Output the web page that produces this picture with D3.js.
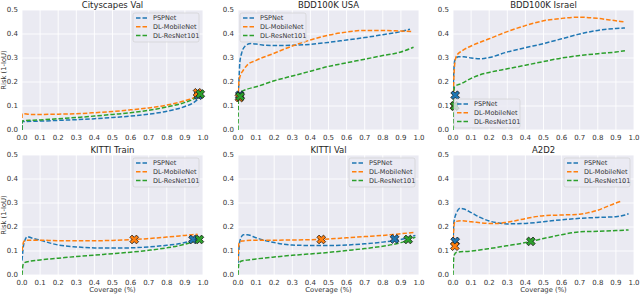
<!DOCTYPE html>
<html>
<head>
<meta charset="utf-8">
<script src="https://cdn.jsdelivr.net/npm/d3@7"></script>
<style>
  body { margin: 0; background: #fff; }
  svg { display: block; font-family: "DejaVu Sans", sans-serif; }
  .tick-label { font-size: 7px; fill: #333; }
  .title { font-size: 8.5px; fill: #262626; }
  .axis-title { font-size: 6.8px; fill: #333; }
  .legend-text { font-size: 6.5px; fill: #333; }
</style>
</head>
<body>
<svg id="chart" width="640" height="294"></svg>
<script>
// Series names and colours (tab10).
const seriesNames = ["PSPNet", "DL-MobileNet", "DL-ResNet101"];
const seriesColors = ["#1f77b4", "#ff7f0e", "#2ca02c"];
const tickValues = [0, 0.1, 0.2, 0.3, 0.4, 0.5, 0.6, 0.7, 0.8, 0.9, 1.0];
const yTickValues = [0, 0.1, 0.2, 0.3, 0.4, 0.5];

// [coverage, risk] pairs.
const cityPsp = [[0, 0.0], [0.001, 0.035], [0.1, 0.037], [0.2, 0.04], [0.3, 0.043], [0.4, 0.047], [0.5, 0.052], [0.6, 0.058], [0.7, 0.066], [0.8, 0.078], [0.9, 0.098], [0.95, 0.115], [0.98, 0.135], [0.99, 0.145]];
const cityMob = [[0, 0.05], [0.001, 0.068], [0.05, 0.065], [0.1, 0.065], [0.2, 0.066], [0.3, 0.068], [0.4, 0.072], [0.5, 0.077], [0.6, 0.084], [0.7, 0.092], [0.8, 0.104], [0.9, 0.122], [0.95, 0.135], [0.98, 0.15]];
const cityRes = [[0, 0.0], [0.001, 0.038], [0.1, 0.042], [0.2, 0.047], [0.3, 0.052], [0.4, 0.058], [0.5, 0.065], [0.6, 0.072], [0.7, 0.082], [0.8, 0.096], [0.9, 0.115], [0.95, 0.13], [0.98, 0.145]];

const usaPsp = [[0, 0.12], [0.005, 0.2], [0.01, 0.28], [0.02, 0.32], [0.04, 0.35], [0.07, 0.36], [0.1, 0.358], [0.15, 0.353], [0.2, 0.352], [0.3, 0.353], [0.4, 0.357], [0.5, 0.365], [0.6, 0.375], [0.7, 0.385], [0.8, 0.397], [0.9, 0.41], [0.95, 0.42]];
const usaMob = [[0, 0.13], [0.005, 0.2], [0.01, 0.22], [0.03, 0.25], [0.05, 0.27], [0.1, 0.29], [0.2, 0.32], [0.3, 0.35], [0.4, 0.375], [0.5, 0.395], [0.6, 0.408], [0.7, 0.415], [0.8, 0.415], [0.9, 0.412], [0.96, 0.41]];
const usaRes = [[0, 0.0], [0.002, 0.12], [0.005, 0.14], [0.02, 0.16], [0.05, 0.17], [0.1, 0.18], [0.2, 0.205], [0.3, 0.225], [0.4, 0.245], [0.5, 0.265], [0.6, 0.28], [0.7, 0.295], [0.8, 0.31], [0.9, 0.325], [0.97, 0.345]];

const israelPsp = [[0, 0.14], [0.005, 0.25], [0.01, 0.29], [0.03, 0.305], [0.06, 0.305], [0.1, 0.3], [0.15, 0.297], [0.2, 0.302], [0.3, 0.325], [0.4, 0.343], [0.5, 0.36], [0.6, 0.38], [0.7, 0.4], [0.8, 0.415], [0.9, 0.423], [0.95, 0.425]];
const israelMob = [[0, 0.1], [0.005, 0.22], [0.01, 0.28], [0.02, 0.31], [0.05, 0.33], [0.1, 0.35], [0.2, 0.38], [0.3, 0.41], [0.4, 0.435], [0.5, 0.455], [0.6, 0.465], [0.7, 0.47], [0.8, 0.465], [0.9, 0.455], [0.95, 0.45]];
const israelRes = [[0, 0.0], [0.003, 0.1], [0.008, 0.18], [0.05, 0.195], [0.1, 0.215], [0.15, 0.23], [0.2, 0.24], [0.3, 0.255], [0.4, 0.27], [0.5, 0.285], [0.6, 0.3], [0.7, 0.31], [0.8, 0.318], [0.9, 0.325], [0.95, 0.33]];

const kittiTrainPsp = [[0, 0.06], [0.01, 0.13], [0.03, 0.16], [0.05, 0.155], [0.1, 0.145], [0.2, 0.125], [0.3, 0.117], [0.4, 0.113], [0.5, 0.112], [0.6, 0.113], [0.7, 0.117], [0.8, 0.124], [0.9, 0.135], [0.95, 0.147], [0.98, 0.15]];
const kittiTrainMob = [[0, 0.1], [0.01, 0.14], [0.03, 0.145], [0.1, 0.145], [0.2, 0.143], [0.3, 0.143], [0.4, 0.143], [0.5, 0.144], [0.6, 0.147], [0.7, 0.152], [0.8, 0.158], [0.9, 0.165], [0.97, 0.17]];
const kittiTrainRes = [[0, 0.0], [0.005, 0.04], [0.01, 0.05], [0.05, 0.058], [0.1, 0.063], [0.2, 0.07], [0.3, 0.077], [0.4, 0.083], [0.5, 0.089], [0.6, 0.095], [0.7, 0.103], [0.8, 0.113], [0.9, 0.128], [0.95, 0.14], [0.98, 0.147]];

const kittiValPsp = [[0, 0.05], [0.01, 0.14], [0.03, 0.168], [0.05, 0.168], [0.1, 0.155], [0.2, 0.135], [0.3, 0.125], [0.4, 0.123], [0.5, 0.123], [0.6, 0.125], [0.7, 0.13], [0.8, 0.137], [0.9, 0.148], [0.98, 0.165]];
const kittiValMob = [[0, 0.06], [0.005, 0.13], [0.02, 0.142], [0.1, 0.145], [0.2, 0.145], [0.3, 0.146], [0.4, 0.147], [0.5, 0.15], [0.6, 0.155], [0.7, 0.16], [0.8, 0.165], [0.9, 0.172], [0.98, 0.178]];
const kittiValRes = [[0, 0.0], [0.005, 0.05], [0.02, 0.058], [0.05, 0.062], [0.1, 0.067], [0.2, 0.075], [0.3, 0.082], [0.4, 0.088], [0.5, 0.094], [0.6, 0.102], [0.7, 0.11], [0.8, 0.12], [0.9, 0.135], [0.98, 0.158]];

const a2d2Psp = [[0, 0.13], [0.005, 0.22], [0.02, 0.26], [0.04, 0.278], [0.06, 0.275], [0.1, 0.26], [0.15, 0.24], [0.2, 0.225], [0.25, 0.217], [0.3, 0.213], [0.4, 0.215], [0.5, 0.222], [0.6, 0.23], [0.7, 0.236], [0.8, 0.24], [0.9, 0.243], [0.95, 0.25], [0.97, 0.255]];
const a2d2Mob = [[0, 0.12], [0.005, 0.2], [0.01, 0.222], [0.05, 0.226], [0.1, 0.222], [0.2, 0.215], [0.25, 0.215], [0.3, 0.22], [0.4, 0.235], [0.5, 0.247], [0.6, 0.25], [0.7, 0.253], [0.75, 0.26], [0.8, 0.27], [0.85, 0.285], [0.9, 0.3], [0.93, 0.308]];
const a2d2Res = [[0, 0.0], [0.005, 0.08], [0.02, 0.095], [0.1, 0.1], [0.2, 0.11], [0.3, 0.122], [0.4, 0.135], [0.5, 0.152], [0.6, 0.168], [0.7, 0.18], [0.8, 0.182], [0.9, 0.185], [0.97, 0.188]];

// Chosen operating points (one per series): [coverage, risk].
const cityMarks = [[0.975, 0.145], [0.97, 0.155], [0.985, 0.15]];
const usaMarks = [[0.01, 0.145], [0.008, 0.135], [0.012, 0.14]];
const israelMarks = [[0.012, 0.145], [0.008, 0.1], [0.01, 0.1]];
const kittiTrainMarks = [[0.945, 0.148], [0.62, 0.148], [0.98, 0.148]];
const kittiValMarks = [[0.865, 0.15], [0.46, 0.148], [0.94, 0.148]];
const a2d2Marks = [[0.012, 0.14], [0.01, 0.12], [0.43, 0.14]];

const panelTitles = ["Cityscapes Val", "BDD100K USA", "BDD100K Israel", "KITTI Train", "KITTI Val", "A2D2"];

const panels = [
    { title: panelTitles[0], series: [cityPsp, cityMob, cityRes], marks: cityMarks, legend: "upper right" },
    { title: panelTitles[1], series: [usaPsp, usaMob, usaRes], marks: usaMarks, legend: "upper left" },
    { title: panelTitles[2], series: [israelPsp, israelMob, israelRes], marks: israelMarks, legend: "lower left" },
    { title: panelTitles[3], series: [kittiTrainPsp, kittiTrainMob, kittiTrainRes], marks: kittiTrainMarks, legend: "upper right" },
    { title: panelTitles[4], series: [kittiValPsp, kittiValMob, kittiValRes], marks: kittiValMarks, legend: "upper right" },
    { title: panelTitles[5], series: [a2d2Psp, a2d2Mob, a2d2Res], marks: a2d2Marks, legend: "upper right" }
];

const colLefts = [22, 238, 453];
const rowTops = [10, 155];
const width = 181;
const height = 120;

const svg = d3.select("#chart");

// Filled "X" marker: a plus rotated by 45 degrees.
const xMarker = d3.symbol().type(d3.symbolCross).size(48);

panels.forEach((p, i) => {
    const col = i % 3;
    const row = Math.floor(i / 3);
    const g = svg.append("g")
        .attr("transform", `translate(${colLefts[col]},${rowTops[row]})`);

    const x = d3.scaleLinear().domain([0, 1]).range([0, width]);
    const y = d3.scaleLinear().domain([0, 0.5]).range([height, 0]);

    // Background and grid, seaborn darkgrid style.
    g.append("rect")
        .attr("width", width)
        .attr("height", height)
        .attr("fill", "#eaeaf2");

    g.selectAll(".vgrid")
        .data(tickValues)
        .join("line")
        .attr("x1", d => x(d)).attr("x2", d => x(d))
        .attr("y1", 0).attr("y2", height)
        .attr("stroke", "#fff").attr("stroke-width", 0.9);

    g.selectAll(".hgrid")
        .data(yTickValues)
        .join("line")
        .attr("x1", 0).attr("x2", width)
        .attr("y1", d => y(d)).attr("y2", d => y(d))
        .attr("stroke", "#fff").attr("stroke-width", 0.9);

    // Tick labels.
    g.append("g").selectAll("text")
        .data(tickValues)
        .join("text")
        .attr("class", "tick-label")
        .attr("x", d => x(d))
        .attr("y", height + 9.5)
        .attr("text-anchor", "middle")
        .text(d => d.toFixed(1));

    g.append("g").selectAll("text")
        .data(yTickValues)
        .join("text")
        .attr("class", "tick-label")
        .attr("x", -4)
        .attr("y", d => y(d))
        .attr("dy", "0.35em")
        .attr("text-anchor", "end")
        .text(d => d.toFixed(1));

    // Title.
    g.append("text")
        .attr("class", "title")
        .attr("x", width / 2)
        .attr("y", -2.5)
        .attr("text-anchor", "middle")
        .text(p.title);

    if (col === 0) {
        g.append("text")
            .attr("class", "axis-title")
            .attr("transform", `translate(${-16},${height / 2}) rotate(-90)`)
            .attr("text-anchor", "middle")
            .text("Risk (1-IoU)");
    }
    if (row === 1) {
        g.append("text")
            .attr("class", "axis-title")
            .attr("x", width / 2)
            .attr("y", height + 17)
            .attr("text-anchor", "middle")
            .text("Coverage (%)");
    }

    // Clip lines to the axes area.
    const clipId = `clip-${i}`;
    g.append("clipPath").attr("id", clipId)
        .append("rect").attr("width", width).attr("height", height);

    const line = d3.line()
        .x(d => x(d[0]))
        .y(d => y(d[1]))
        .curve(d3.curveMonotoneX);

    const lines = g.append("g").attr("clip-path", `url(#${clipId})`);
    p.series.forEach((s, k) => {
        lines.append("path")
            .datum(s)
            .attr("fill", "none")
            .attr("stroke", seriesColors[k])
            .attr("stroke-width", 1.5)
            .attr("stroke-dasharray", "4.5,2")
            .attr("d", line);
    });

    // Operating-point markers.
    g.selectAll(".mark")
        .data(p.marks)
        .join("path")
        .attr("d", xMarker)
        .attr("transform", d => `translate(${x(d[0])},${y(d[1])}) rotate(45)`)
        .attr("fill", (d, k) => seriesColors[k])
        .attr("stroke", "#111")
        .attr("stroke-width", 0.7);

    // Legend.
    const lw = 66, lh = 29;
    let lx, ly;
    if (p.legend === "upper right") { lx = width - lw - 4; ly = 3; }
    else if (p.legend === "upper left") { lx = 2; ly = 3; }
    else { lx = 1; ly = height - lh - 2; }

    const leg = g.append("g").attr("transform", `translate(${lx},${ly})`);
    leg.append("rect")
        .attr("width", lw).attr("height", lh)
        .attr("rx", 2)
        .attr("fill", "#eaeaf2").attr("fill-opacity", 0.8)
        .attr("stroke", "#cccccc").attr("stroke-width", 0.6);
    seriesNames.forEach((name, k) => {
        const yy = 5 + k * 8.7;
        leg.append("line")
            .attr("x1", 3).attr("x2", 16)
            .attr("y1", yy).attr("y2", yy)
            .attr("stroke", seriesColors[k])
            .attr("stroke-width", 1.5)
            .attr("stroke-dasharray", "4.5,2");
        leg.append("text")
            .attr("class", "legend-text")
            .attr("x", 20).attr("y", yy)
            .attr("dy", "0.35em")
            .text(name);
    });
});
</script>
</body>
</html>
